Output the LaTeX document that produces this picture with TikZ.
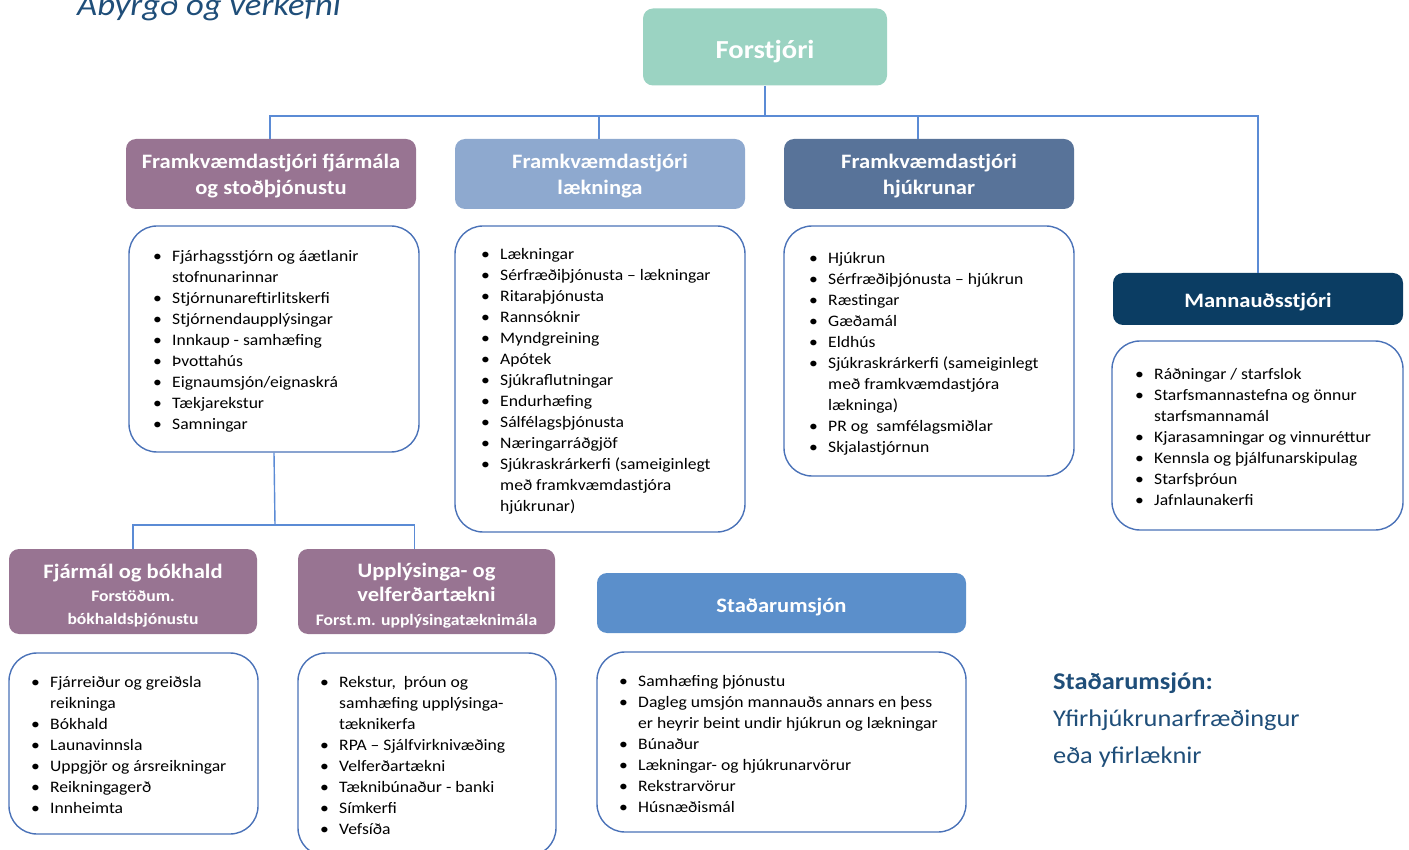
\documentclass[tikz,border=0pt]{standalone}
\usepackage{fontspec}
\setmainfont{Carlito}[FakeStretch=1.1]
\usepackage{array}
\definecolor{teal}{HTML}{9BD3C2}
\definecolor{mauve}{HTML}{987492}
\definecolor{lblue}{HTML}{8EA9CF}
\definecolor{steel}{HTML}{587399}
\definecolor{navy}{HTML}{0B3D63}
\definecolor{midblue}{HTML}{5B8FCB}
\definecolor{bordercol}{HTML}{4A72B8}
\definecolor{linecol}{HTML}{5B8BD5}
\definecolor{darktext}{HTML}{1F4E79}
\newcommand{\itemlist}[1]{{\fontsize{16}{21}\selectfont\begin{tabular}[t]{@{}p{19pt}@{}l@{}}#1\end{tabular}}}
\newcommand{\bu}{\textbullet}
\begin{document}
\begin{tikzpicture}[x=1pt,y=-1pt,
  hdr/.style={rounded corners=10pt, inner sep=0pt},
  htext/.style={inner sep=0pt, text=white, align=center, font=\bfseries\fontsize{20.5}{26}\selectfont},
  lbox/.style={draw=bordercol, line width=1.4pt, rounded corners=28pt, fill=white, inner sep=0pt},
  ltext/.style={anchor=base west, inner sep=0pt, text=black},
  conn/.style={draw=linecol, line width=1.4pt}]
\useasboundingbox (0,0) rectangle (1409,850);
\clip (0,0) rectangle (1409,850);

% title
\node[anchor=base west, inner sep=0pt, text=darktext, font=\itshape\fontsize{31.5}{36}\selectfont] (title) at (77,16) {Ábyrgð og verkefni};

% header boxes
\node[hdr, fill=teal, minimum width=244pt, minimum height=77pt] (forst) at (765,47) {};
\node[hdr, fill=mauve, minimum width=290pt, minimum height=70pt] (h1) at (271,174) {};
\node[hdr, fill=lblue, minimum width=290pt, minimum height=70pt] (h2) at (600,174) {};
\node[hdr, fill=steel, minimum width=290pt, minimum height=70pt] (h3) at (929,174) {};
\node[hdr, fill=navy, minimum width=290pt, minimum height=52pt] (mann) at (1258,299) {};
\node[hdr, fill=mauve, minimum width=248pt, minimum height=85pt] (fj) at (133,591.5) {};
\node[hdr, fill=mauve, minimum width=257pt, minimum height=85pt] (up) at (426.5,591.5) {};
\node[hdr, fill=midblue, minimum width=369pt, minimum height=60pt] (stad) at (781.5,603) {};

% header texts
\node[htext, anchor=base, font=\bfseries\fontsize{26}{30}\selectfont] (forstt) at (765,59) {Forstjóri};
\node[htext] (h1t) at (271,176.5) {Framkvæmdastjóri fjármála\\og stoðþjónustu};
\node[htext] (h2t) at (600,176.5) {Framkvæmdastjóri\\lækninga};
\node[htext] (h3t) at (929,176.5) {Framkvæmdastjóri\\hjúkrunar};
\node[htext] (mannt) at (1258,302) {Mannauðsstjóri};
\node[htext, font=\bfseries\fontsize{20.5}{23}\selectfont] (fjt) at (133,595.5) {Fjármál og bókhald\\{\fontsize{16}{18}\selectfont Forstöðum.}\\{\fontsize{16}{18}\selectfont bókhaldsþjónustu}};
\node[htext, font=\bfseries\fontsize{20.5}{24}\selectfont] (upt) at (426.5,595.5) {Upplýsinga- og\\velferðartækni\\{\fontsize{16}{18}\selectfont Forst.m. upplýsingatæknimála}};
\node[htext] (stadt) at (781.5,607) {Staðarumsjón};

% list boxes
\node[lbox, minimum width=290pt, minimum height=226pt] (l1) at (274,339) {};
\node[lbox, minimum width=290pt, minimum height=306pt] (l2) at (600,379) {};
\node[lbox, minimum width=290pt, minimum height=250pt] (l3) at (929,351) {};
\node[lbox, minimum width=291pt, minimum height=189pt] (l4) at (1257.5,435.5) {};
\node[lbox, minimum width=249pt, minimum height=181pt] (lfj) at (133.5,743.5) {};
\node[lbox, minimum width=258pt, minimum height=203pt] (lup) at (427,754.5) {};
\node[lbox, minimum width=369pt, minimum height=180pt] (lst) at (781.5,742) {};

% list texts
\node[ltext] (t1) at (153,262) {\itemlist{
\bu & Fjárhagsstjórn og áætlanir\\
 & stofnunarinnar\\
\bu & Stjórnunareftirlitskerfi\\
\bu & Stjórnendaupplýsingar\\
\bu & Innkaup - samhæfing\\
\bu & Þvottahús\\
\bu & Eignaumsjón/eignaskrá\\
\bu & Tækjarekstur\\
\bu & Samningar}};
\node[ltext] (t2) at (481,260) {\itemlist{
\bu & Lækningar\\
\bu & Sérfræðiþjónusta – lækningar\\
\bu & Ritaraþjónusta\\
\bu & Rannsóknir\\
\bu & Myndgreining\\
\bu & Apótek\\
\bu & Sjúkraflutningar\\
\bu & Endurhæfing\\
\bu & Sálfélagsþjónusta\\
\bu & Næringarráðgjöf\\
\bu & Sjúkraskrárkerfi (sameiginlegt\\
 & með framkvæmdastjóra\\
 & hjúkrunar)}};
\node[ltext] (t3) at (809,264) {\itemlist{
\bu & Hjúkrun\\
\bu & Sérfræðiþjónusta – hjúkrun\\
\bu & Ræstingar\\
\bu & Gæðamál\\
\bu & Eldhús\\
\bu & Sjúkraskrárkerfi (sameiginlegt\\
 & með framkvæmdastjóra\\
 & lækninga)\\
\bu & PR og\ \ samfélagsmiðlar\\
\bu & Skjalastjórnun}};
\node[ltext] (t4) at (1135,380) {\itemlist{
\bu & Ráðningar / starfslok\\
\bu & Starfsmannastefna og önnur\\
 & starfsmannamál\\
\bu & Kjarasamningar og vinnuréttur\\
\bu & Kennsla og þjálfunarskipulag\\
\bu & Starfsþróun\\
\bu & Jafnlaunakerfi}};
\node[ltext] (tfj) at (31,687) {\itemlist{
\bu & Fjárreiður og greiðsla\\
 & reikninga\\
\bu & Bókhald\\
\bu & Launavinnsla\\
\bu & Uppgjör og ársreikningar\\
\bu & Reikningagerð\\
\bu & Innheimta}};
\node[ltext] (tup) at (320,687) {\itemlist{
\bu & Rekstur,\ \ þróun og\\
 & samhæfing upplýsinga-\\
 & tæknikerfa\\
\bu & RPA – Sjálfvirknivæðing\\
\bu & Velferðartækni\\
\bu & Tæknibúnaður - banki\\
\bu & Símkerfi\\
\bu & Vefsíða}};
\node[ltext] (tst) at (619,686) {\itemlist{
\bu & Samhæfing þjónustu\\
\bu & Dagleg umsjón mannauðs annars en þess\\
 & er heyrir beint undir hjúkrun og lækningar\\
\bu & Búnaður\\
\bu & Lækningar- og hjúkrunarvörur\\
\bu & Rekstrarvörur\\
\bu & Húsnæðismál}};

% side note
\node[anchor=base west, inner sep=0pt, text=darktext] (note) at (1053,689) {{\fontsize{24}{37}\selectfont\begin{tabular}[t]{@{}l@{}}\textbf{Staðarumsjón:}\\Yfirhjúkrunarfræðingur\\eða yfirlæknir\end{tabular}}};

% connectors
\coordinate (bus) at (765,116);
\coordinate (bus2) at (275,525);
\draw[conn] (forst.south) -- (bus);
\draw[conn] ([xshift=-1pt]h1.north) |- (bus) -| (mann.north);
\draw[conn] ([xshift=-1pt]h2.north) -- ([xshift=-1pt]h2.north |- bus);
\draw[conn] ([xshift=-11pt]h3.north) -- ([xshift=-11pt]h3.north |- bus);
\draw[conn] (l1.south) -- (bus2);
\draw[conn] (fj.north) |- (bus2);
\draw[conn] ([xshift=-12pt]up.north) |- (bus2);
\end{tikzpicture}
\end{document}
